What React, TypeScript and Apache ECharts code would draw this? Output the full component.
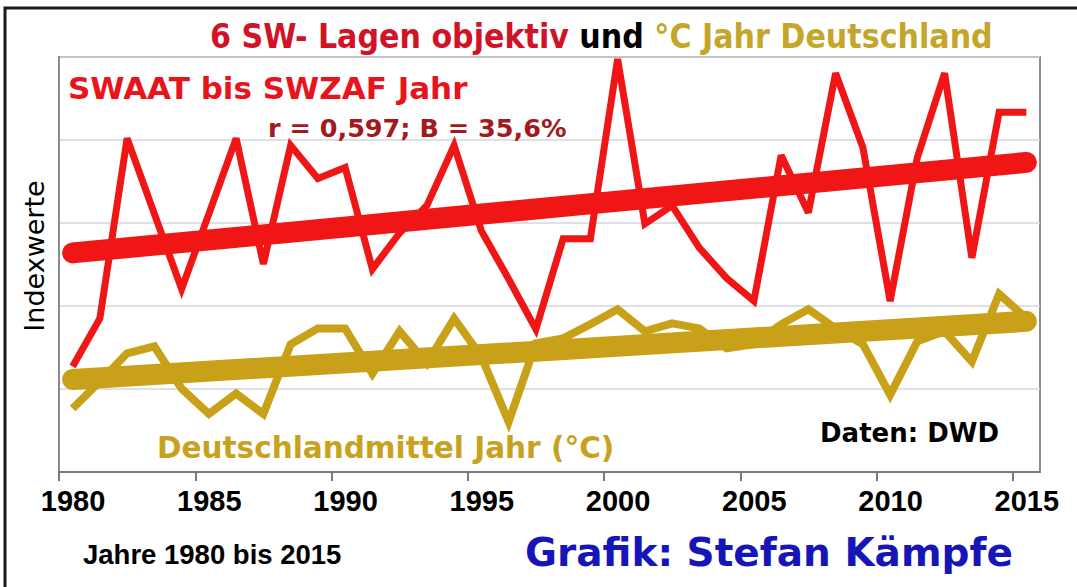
import React, { useEffect, useRef } from "react";
import * as echarts from "echarts";

const years = [
  1980, 1981, 1982, 1983, 1984, 1985, 1986, 1987, 1988, 1989,
  1990, 1991, 1992, 1993, 1994, 1995, 1996, 1997, 1998, 1999,
  2000, 2001, 2002, 2003, 2004, 2005, 2006, 2007, 2008, 2009,
  2010, 2011, 2012, 2013, 2014, 2015,
];

// SW-Lagen index (SWAAT bis SWZAF)
const swLagen = [
  25.4, 37.0, 80.4, 62.2, 44.1, 62.2, 80.4, 50.1, 78.7, 70.7,
  73.4, 48.9, 57.6, 64.2, 78.7, 58.1, 46.5, 34.4, 56.2, 56.2,
  99.5, 59.8, 64.2, 54.0, 46.7, 41.2, 76.3, 62.5, 96.1, 78.2,
  41.2, 75.8, 96.1, 51.6, 86.7, 86.7,
];

// Deutschlandmittel Jahr (°C), index-scaled
const tempDE = [
  15.3, 21.8, 28.6, 30.3, 20.1, 14.0, 18.9, 14.0, 30.8, 34.6,
  34.6, 23.7, 33.9, 26.2, 37.0, 27.8, 12.1, 31.0, 32.2, 35.6,
  39.2, 33.9, 35.8, 34.6, 29.8, 30.8, 35.6, 39.2, 34.6, 30.8,
  18.6, 31.5, 33.9, 26.6, 42.9, 37.0,
];

const trendYears = [1980, 2015];
const swTrend = [52.8, 74.6];
const tempTrend = [22.3, 36.3];

const RED = "#f01616";
const GOLD = "#c9a118";
const TITLE_FONT = "'DejaVu Sans Condensed', 'DejaVu Sans'";

export default function App() {
  const ref = useRef<HTMLDivElement>(null);

  useEffect(() => {
    if (!ref.current) return;
    const chart = echarts.init(ref.current, undefined, { renderer: "svg" });
    const mid = (y: number) => y + 0.5;
    const rs = (color: string) => ({
      fontFamily: TITLE_FONT,
      fontWeight: "bold",
      fontSize: 33.5,
      color,
    });
    chart.setOption({
      animation: false,
      backgroundColor: "#ffffff",
      title: {
        left: 205,
        top: 14,
        text: "{r|6 SW- Lagen objektiv} {k|und} {g|°C Jahr Deutschland}",
        textStyle: {
          fontWeight: "bold",
          fontFamily: TITLE_FONT,
          fontSize: 33.5,
          rich: {
            r: rs("#d21226"),
            k: rs("#000000"),
            g: rs("#c4a62a"),
          },
        },
      },
      grid: {
        left: 59,
        right: 37,
        top: 57,
        bottom: 115,
        show: true,
        borderColor: "#8c8c8c",
        borderWidth: 2,
        backgroundColor: "#ffffff",
      },
      xAxis: {
        type: "value",
        min: 1980,
        max: 2016,
        interval: 5,
        axisLine: { show: true, lineStyle: { color: "#7a7a7a", width: 2 } },
        axisTick: { show: true, length: 9, lineStyle: { color: "#7a7a7a", width: 2 } },
        splitLine: { show: false },
        axisLabel: {
          showMaxLabel: false,
          formatter: (v: number) => (v % 5 === 0 ? String(v) : ""),
          color: "#000000",
          fontFamily: "Liberation Sans",
          fontWeight: "bold",
          fontSize: 29,
          margin: 14,
          padding: [0, 0, 0, 28],
        },
      },
      yAxis: {
        type: "value",
        min: 0,
        max: 100,
        interval: 20,
        axisLine: { show: true, lineStyle: { color: "#8c8c8c", width: 2 } },
        axisTick: { show: false },
        axisLabel: { show: false },
        splitLine: { show: true, lineStyle: { color: "#d3d6de", width: 1.5 } },
      },
      series: [
        {
          type: "line",
          data: years.map((y, i) => [mid(y), swLagen[i]]),
          symbol: "none",
          silent: true,
          lineStyle: { color: RED, width: 7, join: "miter", miterLimit: 3 },
          z: 2,
        },
        {
          type: "line",
          data: trendYears.map((y, i) => [mid(y), swTrend[i]]),
          symbol: "none",
          silent: true,
          lineStyle: { color: RED, width: 21, cap: "round" },
          z: 3,
        },
        {
          type: "line",
          data: years.map((y, i) => [mid(y), tempDE[i]]),
          symbol: "none",
          silent: true,
          lineStyle: { color: GOLD, width: 8, join: "miter", miterLimit: 3 },
          z: 4,
        },
        {
          type: "line",
          data: trendYears.map((y, i) => [mid(y), tempTrend[i]]),
          symbol: "none",
          silent: true,
          lineStyle: { color: GOLD, width: 21, cap: "round" },
          z: 5,
        },
      ],
      graphic: [
        {
          type: "text",
          x: 68,
          y: 88,
          z: 10,
          style: {
            text: "SWAAT bis SWZAF Jahr",
            font: "bold 31px 'DejaVu Sans'",
            fill: "#e8141c",
            verticalAlign: "middle",
          },
        },
        {
          type: "text",
          x: 268,
          y: 128,
          z: 10,
          style: {
            text: "r = 0,597; B = 35,6%",
            font: "bold 25.5px 'DejaVu Sans'",
            fill: "#a31a1e",
            verticalAlign: "middle",
          },
        },
        {
          type: "text",
          x: 157,
          y: 448,
          z: 10,
          style: {
            text: "Deutschlandmittel Jahr (°C)",
            font: "bold 29.5px 'DejaVu Sans'",
            fill: "#c8a21e",
            verticalAlign: "middle",
          },
        },
        {
          type: "text",
          x: 820,
          y: 433,
          z: 10,
          style: {
            text: "Daten: DWD",
            font: "bold 26px 'DejaVu Sans'",
            fill: "#000000",
            verticalAlign: "middle",
          },
        },
        {
          type: "text",
          x: 83,
          y: 554,
          z: 10,
          style: {
            text: "Jahre 1980 bis 2015",
            font: "bold 27.5px 'Liberation Sans'",
            fill: "#000000",
            verticalAlign: "middle",
          },
        },
        {
          type: "text",
          x: 525,
          y: 552,
          z: 10,
          style: {
            text: "Grafik: Stefan Kämpfe",
            font: "bold 39px 'DejaVu Sans'",
            fill: "#1616b8",
            verticalAlign: "middle",
          },
        },
        {
          type: "text",
          x: 34,
          y: 256,
          rotation: Math.PI / 2,
          z: 10,
          style: {
            text: "Indexwerte",
            font: "27px 'DejaVu Sans'",
            fill: "#000000",
            align: "center",
            verticalAlign: "middle",
          },
        },
        {
          type: "rect",
          z: 20,
          shape: { x: 5, y: 8, width: 1100, height: 620 },
          style: { fill: "none", stroke: "#1a1a1a", lineWidth: 3 },
        },
      ],
    });
    return () => chart.dispose();
  }, []);

  return (
    <div
      ref={ref}
      style={{ position: "absolute", left: 0, top: 0, width: 1077, height: 587 }}
    />
  );
}
